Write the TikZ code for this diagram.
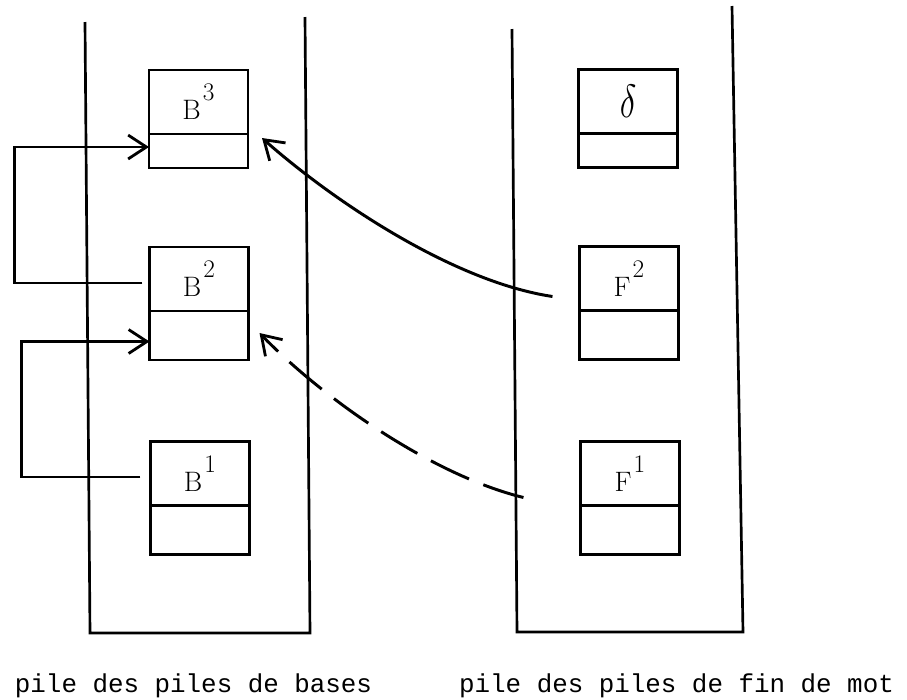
\documentclass[tikz,border=0pt]{standalone}
\usepackage{fontspec}
\usepackage{graphicx}
\usetikzlibrary{arrows.meta}
\usetikzlibrary{positioning}
\newfontfamily\typefont{Liberation Mono}

\tikzset{
  cell/.style={draw, line width=1.6pt, inner sep=0pt, outer sep=0pt,
    minimum width=2.475cm, minimum height=1.6cm, font=\fontsize{20}{22}\selectfont},
  ptr/.style={cell, minimum height=1.225cm},
  shortptr/.style={cell, minimum height=0.85cm},
  wall/.style={line width=1.9pt},
  link/.style={line width=2.1pt, -{Straight Barb[length=13pt, width=17pt, line width=2pt]}},
  caption/.style={font=\typefont\fontsize{18.4}{20}\selectfont, inner sep=0pt, anchor=base},
}
% letter with a raised index, typewriter fashion
\newcommand{\pile}[2]{#1\kern1.5pt\raisebox{0.68em}{\fontsize{18}{20}\selectfont #2}}

\begin{document}
\begin{tikzpicture}[x=0.025cm, y=-0.025cm]
  \useasboundingbox (0,0) rectangle (907,699);

  % the two stacks
  \draw[wall] (85,22) -- (90,633) -- (310,633) -- (305,17);
  \draw[wall] (512,29) -- (517,632) -- (743,632) -- (732,6);

  \node[cell] (b3) at (198.5,102) {\pile{B}{3}};
  \node[shortptr, below=0pt of b3] (b3p) {};
  \node[cell] (b2) at (199,279) {\pile{B}{2}};
  \node[ptr, below=0pt of b2] (b2p) {};
  \node[cell] (b1) at (200,473.5) {\pile{B}{1}};
  \node[ptr, below=0pt of b1] (b1p) {};

  \node[cell] (d) at (628,101.5) {\scalebox{1.2}[1.6]{$\delta$}};
  \node[shortptr, below=0pt of d] (dp) {};
  \node[cell] (f2) at (629,278.5) {\pile{F}{2}};
  \node[ptr, below=0pt of f2] (f2p) {};
  \node[cell] (f1) at (630,473.5) {\pile{F}{1}};
  \node[ptr, below=0pt of f1] (f1p) {};

  % links between bases
  \draw[link] (b2.west) ++(-7,4) -- ++(-128,0) |- ([yshift=0.1cm]b3p.west);
  \draw[link] (b1.west) ++(-10,3.5) -- ++(-119,0) |- ([yshift=-0.15cm]b2p.west);

  % from the ends of words back to the bases
  \draw[link] ([shift={(-27,18)}]f2.west) .. controls +(-100,-15) and +(70,62) .. ([shift={(14,-13)}]b3p.east);
  \draw[link, dash pattern=on 30pt off 11pt] ([shift={(-57,24)}]f1.west) .. controls +(-90,-22) and +(65,67) .. ([shift={(11,-2.5)}]b2p.east);

  \node[caption] (capb) at (193.5,692) {pile des piles de bases};
  \node[caption] (capf) at (676.5,692) {pile des piles de fin de mot};
\end{tikzpicture}
\end{document}
